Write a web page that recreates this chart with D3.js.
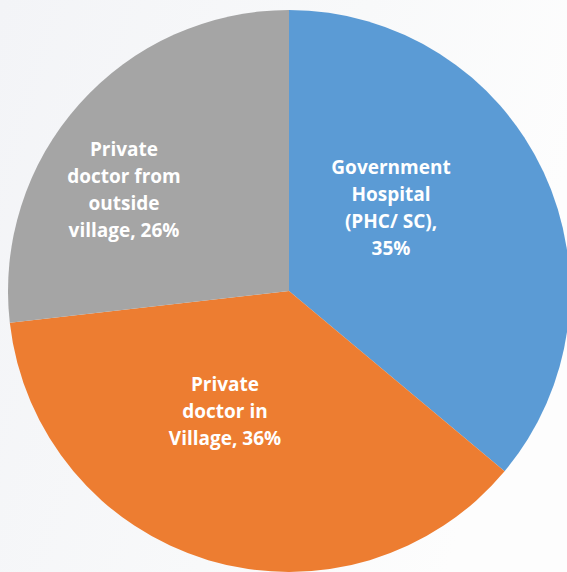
<!DOCTYPE html>
<html>
<head>
<meta charset="utf-8">
<script src="https://cdn.jsdelivr.net/npm/d3@7/dist/d3.min.js"></script>
<style>
  html, body { margin: 0; padding: 0; background: #f6f7f9; }
  svg { display: block; }
</style>
</head>
<body>
<svg id="chart" width="567" height="572"></svg>
<script>
// Source of treatment, share of respondents
const categories = ["Government Hospital (PHC/ SC)", "Private doctor in Village", "Private doctor from outside village"];
const values = [35, 36, 26];
const colors = ["#5B9BD5", "#ED7D31", "#A5A5A5"];
// label text, split into lines as printed inside each slice
const labelLines = [
  ["Government", "Hospital", "(PHC/ SC),", "35%"],
  ["Private", "doctor in", "Village, 36%"],
  ["Private", "doctor from", "outside", "village, 26%"]
];

const W = 567, H = 572;
const cx = 289, cy = 291, R = 281;
// label block centres, relative to the pie centre
const labelOffsets = [[102, -83], [-64, 120], [-165, -101]];
const lineGap = 27;

const svg = d3.select("#chart");

const defs = svg.append("defs");
const bg = defs.append("linearGradient").attr("id", "bg")
  .attr("x1", "0").attr("y1", "0").attr("x2", "1").attr("y2", "0.3");
bg.append("stop").attr("offset", "0").attr("stop-color", "#f3f4f7");
bg.append("stop").attr("offset", "0.6").attr("stop-color", "#f8f9fa");
bg.append("stop").attr("offset", "1").attr("stop-color", "#fdfdfd");
svg.append("rect").attr("width", W).attr("height", H).attr("fill", "url(#bg)");

const pie = d3.pie().sort(null).value(d => d);
const arc = d3.arc().innerRadius(0).outerRadius(R);

const g = svg.append("g").attr("transform", `translate(${cx},${cy})`);

g.selectAll("path.slice")
  .data(pie(values))
  .join("path")
  .attr("class", "slice")
  .attr("d", arc)
  .attr("fill", (d, i) => colors[i]);

const labels = g.selectAll("text.label")
  .data(labelLines)
  .join("text")
  .attr("class", "label")
  .attr("text-anchor", "middle")
  .attr("fill", "#ffffff")
  .attr("font-family", "'Open Sans', Lato, sans-serif")
  .attr("font-weight", "bold")
  .attr("font-size", 19)
  .attr("transform", (d, i) => `translate(${labelOffsets[i][0]},${labelOffsets[i][1]})`);

labels.each(function(lines) {
  const t = d3.select(this);
  const start = -(lines.length - 1) / 2 * lineGap;
  lines.forEach((line, j) => {
    t.append("tspan")
      .attr("x", 0)
      .attr("y", start + j * lineGap)
      .attr("dy", "0.35em")
      .text(line);
  });
});
</script>
</body>
</html>
